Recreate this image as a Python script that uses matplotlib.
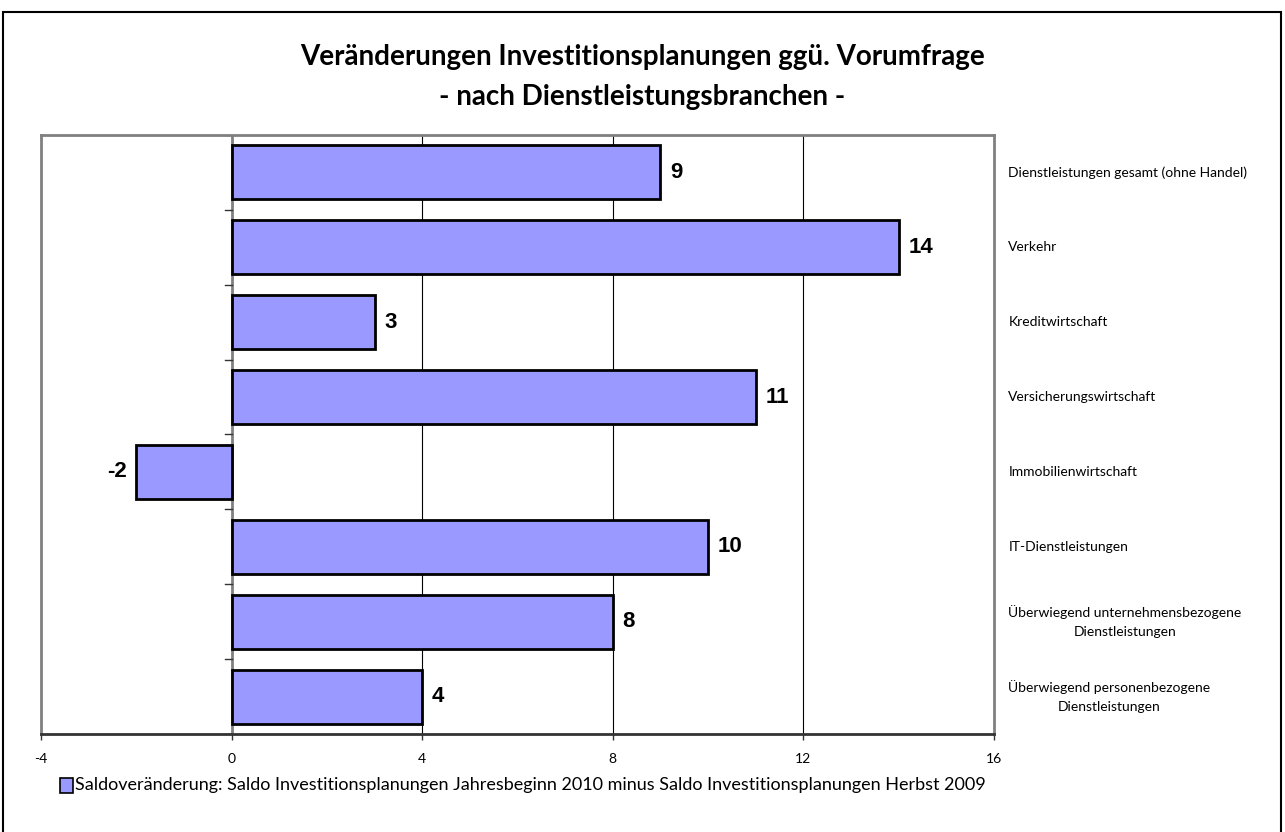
import matplotlib.pyplot as plt
import numpy as np

# data, top to bottom as in the chart
branchen = ["Dienstleistungen gesamt (ohne Handel)",
            "Verkehr",
            "Kreditwirtschaft",
            "Versicherungswirtschaft",
            "Immobilienwirtschaft",
            "IT-Dienstleistungen",
            "Überwiegend unternehmensbezogene\nDienstleistungen",
            "Überwiegend personenbezogene\nDienstleistungen"]
saldo = [9, 14, 3, 11, -2, 10, 8, 4]
x_ticks = [-4, 0, 4, 8, 12, 16]

title = "Veränderungen Investitionsplanungen ggü. Vorumfrage\n- nach Dienstleistungsbranchen -"
legend_label = "Saldoveränderung: Saldo Investitionsplanungen Jahresbeginn 2010 minus Saldo Investitionsplanungen Herbst 2009"

narrow = ["Lato", "DejaVu Sans"]
bar_col = "#9999FF"

fig = plt.figure(figsize=(12.85, 8.32), dpi=100)
ax = fig.add_axes([41/1285, 1 - 734/832, (994-41)/1285, (734-135)/832])

y = np.arange(len(branchen))
ax.barh(y, saldo, height=0.72, color=bar_col, edgecolor="black", linewidth=2, zorder=3)

ax.set_xlim(-4, 16)
ax.set_ylim(len(branchen) - 0.5, -0.5)
ax.set_xticks(x_ticks)
ax.set_xticklabels([str(t) for t in x_ticks], fontsize=10, family=narrow)
ax.tick_params(axis="x", direction="out", length=4, width=1, pad=10, color="#333333")

# vertical gridlines
for t in x_ticks[2:-1]:
    ax.axvline(t, color="black", linewidth=0.8, zorder=1)
# zero axis with category ticks
ax.axvline(0, color="#808080", linewidth=2, zorder=2)
for b in np.arange(len(branchen) + 1) - 0.5:
    ax.plot([-0.13, 0], [b, b], color="#333333", linewidth=1, zorder=2)

ax.set_yticks([])
for s in ["top", "left", "right"]:
    ax.spines[s].set_color("#808080")
    ax.spines[s].set_linewidth(2)
ax.spines["bottom"].set_color("#333333")
ax.spines["bottom"].set_linewidth(2)

# value labels
for yi, v in zip(y, saldo):
    if v >= 0:
        ax.text(v + 0.2, yi, str(v), ha="left", va="center", fontsize=16,
                fontweight="bold", family="Liberation Sans")
    else:
        ax.text(v - 0.2, yi, str(v), ha="right", va="center", fontsize=16,
                fontweight="bold", family="Liberation Sans")

# category labels on the right
for yi, name in zip(y, branchen):
    ax.text(16.3, yi, name, ha="left", va="center", fontsize=10,
            family=narrow, multialignment="center", clip_on=False,
            linespacing=1.7)

fig.text(0.5, 1 - 77/832, title, ha="center", va="center", fontsize=20,
         fontweight="bold", family=narrow, linespacing=1.7)

# legend
fig.patches.append(plt.Rectangle((60/1285, 1 - 793/832), 13/1285, 15/832,
                                 transform=fig.transFigure, facecolor=bar_col,
                                 edgecolor="black", linewidth=1.2))
fig.text(75/1285, 1 - 785/832, legend_label, ha="left", va="center",
         fontsize=13, family=narrow)

# outer frame
fig.patches.append(plt.Rectangle((3/1285, -0.01), 1278/1285, 1 - 12/832 + 0.01,
                                 transform=fig.transFigure, fill=False,
                                 edgecolor="black", linewidth=1.5))

fig.savefig("out.png", dpi=100)
